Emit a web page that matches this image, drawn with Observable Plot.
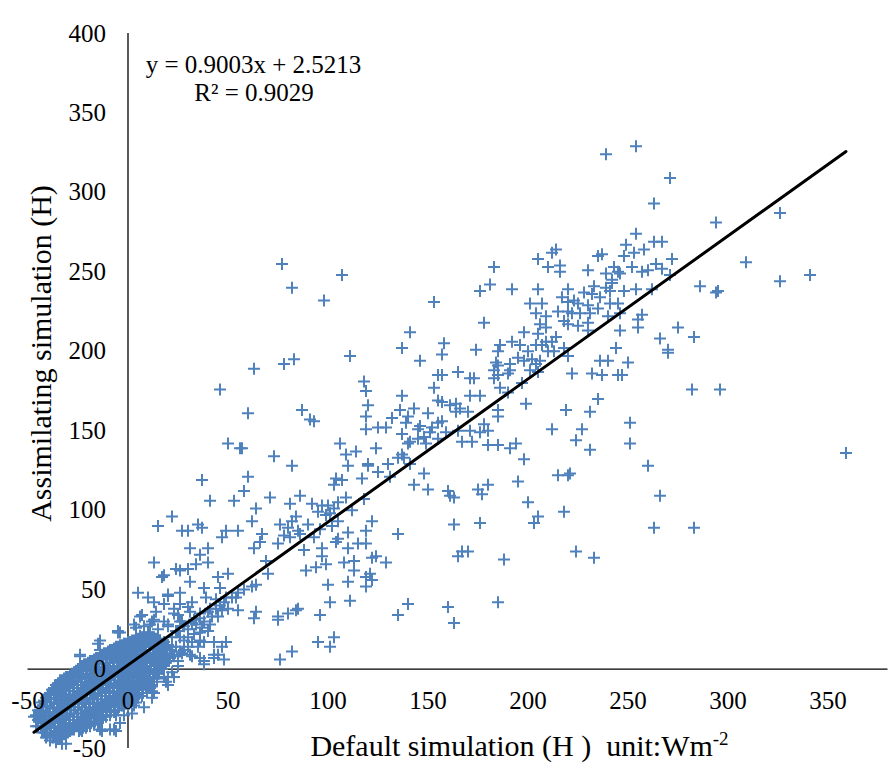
<!DOCTYPE html>
<html><head><meta charset="utf-8">
<script src="https://cdn.jsdelivr.net/npm/d3@7"></script>
<script src="https://cdn.jsdelivr.net/npm/@observablehq/plot@0.6"></script>
<style>
html,body{margin:0;padding:0;background:#fff;}
#chart{width:894px;height:772px;}
svg text{font-family:'Liberation Serif','Times New Roman',serif;}
</style></head><body><div id="chart"></div>
<script>
const xTicks = [-50, 0, 50, 100, 150, 200, 250, 300, 350];
const yTicks = [-50, 0, 50, 100, 150, 200, 250, 300, 350, 400];
const xTitle = "Default simulation (H )  unit:Wm";
const xTitleSup = "-2";
const yTitle = "Assimilating simulation (H)";
const trendSlope = 0.9003;
const trendIntercept = 2.5213;
const equationLine1 = "y = 0.9003x + 2.5213";
const equationLine2 = "R\u00B2 = 0.9029";

// scattered points [default H, assimilating H]
const scatterPoints = [
[239,324],[254,329],[271,309],[263,293],[294,281],[326,287],[309,256],[326,244],[341,248],[286,241],[294,237],[295,238],[275,215],[283,209],[266,208],[272,258],[267,269],[263,269],[254,274],[249,267],[258,264],[253,262],[248,260],[237,261],[252,253],[264,255],[267,252],[271,248],[260,251],[257,250],[243,253],[246,249],[262,239],[254,239],[248,238],[241,238],[257,223],[255,220],[255,215],[246,213],[244,202],[270,201],[245,230],[242,243],[296,176],[359,136],
[220,197],[236,194],[240,194],[250,193],[270,199],[222,186],[232,186],[237,185],[245,185],[247,185],[282,176],[235,170],[219,163],[231,162],[251,155],[212,151],[227,151],[224,144],[251,142],[231,138],[260,128],[215,122],[220,122],[221,123],[266,109],[218,99],[205,96],[203,92],[263,89],[283,89],[224,74],[233,70],
[118,181],[119,175],[153,177],[155,185],[157,185],[165,187],[171,183],[173,183],[183,183],[185,185],[190,186],[197,180],[205,187],[137,172],[171,172],[176,172],[186,177],[190,174],[120,166],[87,163],[91,157],[93,156],[119,159],[119,151],[125,152],[129,152],[132,158],[136,163],[143,164],[140,159],[139,155],[150,161],[155,169],[157,168],[161,166],[164,167],[164,162],[166,164],[170,162],[157,156],[155,155],[146,153],[145,151],[137,148],[152,152],[151,149],[148,146],[145,145],[141,143],[140,142],[149,142],[155,145],[159,149],[165,150],[171,150],[176,149],[178,154],[180,150],[185,163],[185,159],[199,167],[167,143],[172,143],[180,141],[185,141],[191,139],[194,142],[198,132],[195,118],[180,116],[175,113],[177,110],[160,112],[163,108],[161,109],[150,113],[143,116],[148,123],[141,129],[137,135],[135,133],[138,133],[130,129],[131,121],[125,124],[124,139],[120,129],[120,128],[117,120],[106,142],[114,137],[109,135],[110,128],[104,120],[107,119],[103,116],[73,134],[82,128],[71,108],[86,109],[81,104],[92,104],[97,103],[100,103],[103,101],[105,105],[109,108],[112,100],[118,107],[95,99],[99,97],[101,98],[84,96],[82,93],[76,91],[80,89],[85,87],[90,91],[96,88],[105,93],[102,90],[122,93],[119,87],[110,86],[78,84],[81,83],[86,85],[67,85],[66,80],[75,79],[88,75],[93,83],[97,76],[104,80],[105,82],[110,76],[115,79],[119,79],[135,85],[63,76],[69,68],[70,60],[64,53],[89,62],[94,64],[99,66],[97,71],[108,67],[113,68],[122,70],[124,71],[129,67],[113,62],[119,58],[121,60],[122,56],[119,52],[110,55],[100,53],[101,42],[111,43],[140,41],[135,34],[160,39],[163,29],[185,42],[165,71],[167,74],[170,74],[163,91],[176,92],[188,69],[200,105],[85,38],[84,37],[80,35],[75,33],[75,31],[96,34],[95,17],[103,20],[101,14],[64,36],[63,32],
[153,231],[183,253],[176,238],[181,242],[192,239],[205,239],[178,218],[205,258],[212,262],[214,264],[210,253],[216,254],[216,250],[235,260],[201,230],[207,230],[204,224],[217,234],[220,231],[220,239],[223,232],[228,237],[230,251],[233,241],[232,236],[225,230],[230,229],[226,224],[231,224],[235,227],[236,234],[239,249],[242,245],[239,240],[245,250],[241,230],[240,222],[246,224],[230,218],[230,213],[225,216],[220,217],[218,219],[222,224],[220,225],[215,225],[209,222],[209,215],[206,217],[218,202],
[158,205],[157,198],[174,201],[186,204],[185,200],[192,206],[198,212],[205,211],[196,204],[200,200],[204,204],[195,196],[198,194],[202,195],[204,192],[201,188],[206,194],[209,206],[212,206],[214,209],[207,204],[210,200],[213,200],[184,193],[185,191],[191,192],[191,188],[183,188],[146,194],
[77,255],[82,240],[107,248],[98,232],[141,212],[137,202],[111,197],[63,189],[78,192],[83,195],[46,176],
[60,161],[50,142],[56,139],[57,139],[37,119],[60,121],[58,112],[41,106],[53,106],
[64,101],[22,96],[15,90],[27,87],[30,87],[35,91],[37,89],[49,87],[55,87],[62,93],[47,83],[31,76],[36,72],[40,76],[13,67],[24,63],[30,63],[34,66],[40,67],[17,58],[31,55],[38,51],[5,48],[10,45],[13,42],[20,46],[26,48],[26,41],[32,42],[39,45],[44,44],[46,51],[49,45],[54,45],[62,52],[55,37],[47,37],[41,38],[36,35],[31,36],[23,38],[18,41],[7,34],[3,28],[11,28],[20,28],[26,30],[33,31],[36,23],[30,20],[25,24],[20,15],[16,18],[11,20],[6,21],[5,15],[-4,23],[-2,15],[27,10],[31,9],[36,7],[38,3],[21,7],[18,3],[25,2],[22,-2],[19,-8],[20,-10],[12,-14],[13,-8],[10,-10],[45,9],[48,6],[43,17],[49,17],[82,11],[76,6],
[18,59],[26,62],[45,58],[50,60],[20,47],[-5,24],[12,30],[23,35],[30,39],[38,17],[43,7],[23,8],[13,-15],[12,-11],[18,-5],[3,-23],[-2,-29],[-6,-39],[-9,-38],[-14,-38],[-15,-34],[-22,-33],[-27,-32],[-31,-47],[-36,-46],[-37,-41],[-35,-37],[-39,-35],[-44,-29],[-45,-36],[-47,-30],[-42,-20],[-37,-16],[-35,-12],[-30,-8],[-24,8],[-15,16],[-14,12],[-9,10],[-2,16],[4,26],[10,17],
[-24,9],[-14,18],[-5,23],[-34,-7],[-36,-14],[-44,-26],[6,33],[13,31],[10,23],[20,27],[25,34],[27,30],[26,11],[32,17],[36,18],[32,8],[38,5],[43,9],[47,14],[20,-5],[23,-5],[12,-18],[8,-24],[2,-28],[-4,-34],[-7,-38],[-13,-39],[-24,-38],[-34,-44],[-33,-47],
[22,20],[24,24],[26,20],[28,27],[30,25],[32,29],[34,28],[36,32],[38,30],[40,36],[42,33],[44,38],[46,40],[48,42],[24,14],[28,18],[33,22],[37,26],[41,28],[45,33],[50,38],[52,45],[55,48],[58,50],[25,5],[28,12],[30,14],[35,14],[40,24],[15,25],[18,30],[8,27],[14,36]
];

// dense cluster around the origin (estimated from the solid blob)
const originCluster = [
[-46,-29],[-46,-36],[-44,-24],[-44.5,-31],[-43.5,-37],[-42,-20],[-42.5,-27],[-41.5,-33],[-42,-40],
[-40,-16],[-40.5,-23],[-39.5,-29],[-40,-35],[-40.5,-42],
[-38,-13],[-38.5,-19],[-37.5,-25],[-38,-31],[-38.5,-37],[-37.5,-43],
[-36,-10],[-36.5,-16],[-35.5,-22],[-36,-28],[-36.5,-34],[-35.5,-40],[-36,-45],
[-34,-8],[-34.5,-14],[-33.5,-20],[-34,-26],[-34.5,-32],[-33.5,-38],[-34,-43],
[-32,-6],[-32.5,-12],[-31.5,-18],[-32,-24],[-32.5,-30],[-31.5,-36],[-32,-41],
[-30,-5],[-30.5,-10],[-29.5,-16],[-30,-22],[-30.5,-28],[-29.5,-34],[-30,-40],
[-28,-3],[-28.5,-9],[-27.5,-14],[-28,-20],[-28.5,-26],[-27.5,-32],[-28,-38],
[-26,-1],[-26.5,-7],[-25.5,-12],[-26,-18],[-26.5,-24],[-25.5,-30],[-26,-36],
[-24,1],[-24.5,-5],[-23.5,-10],[-24,-16],[-24.5,-22],[-23.5,-28],[-24,-34],[-24.5,-39],
[-22,3],[-22.5,-3],[-21.5,-8],[-22,-14],[-22.5,-20],[-21.5,-26],[-22,-32],[-22.5,-37],
[-20,4],[-20.5,-1],[-19.5,-6],[-20,-12],[-20.5,-18],[-19.5,-24],[-20,-30],[-20.5,-35],
[-18,5],[-18.5,0],[-17.5,-5],[-18,-10],[-18.5,-16],[-17.5,-22],[-18,-28],[-18.5,-34],
[-16,7],[-16.5,1],[-15.5,-4],[-16,-9],[-16.5,-15],[-15.5,-21],[-16,-27],[-16.5,-33],
[-14,8],[-14.5,3],[-13.5,-2],[-14,-7],[-14.5,-13],[-13.5,-19],[-14,-25],[-14.5,-31],
[-12,10],[-12.5,4],[-11.5,-1],[-12,-6],[-12.5,-12],[-11.5,-17],[-12,-23],[-12.5,-29],
[-10,11],[-10.5,6],[-9.5,1],[-10,-4],[-10.5,-10],[-9.5,-15],[-10,-21],[-10.5,-27],
[-8,12],[-8.5,7],[-7.5,2],[-8,-3],[-8.5,-9],[-7.5,-14],[-8,-20],[-8.5,-26],
[-6,14],[-6.5,9],[-5.5,4],[-6,-2],[-6.5,-7],[-5.5,-12],[-6,-18],[-6.5,-24],[-6,-29],
[-4,15],[-4.5,10],[-3.5,5],[-4,0],[-4.5,-5],[-3.5,-10],[-4,-16],[-4.5,-22],
[-2,16],[-2.5,11],[-1.5,6],[-2,1],[-2.5,-4],[-1.5,-9],[-2,-14],[-2.5,-20],[-2,-25],
[0,17],[-0.5,12],[0.5,7],[0,2],[-0.5,-3],[0.5,-8],[0,-13],[-0.5,-18],[0,-23],
[2,18],[1.5,13],[2.5,8],[2,3],[1.5,-2],[2.5,-7],[2,-12],[1.5,-17],
[4,19],[3.5,14],[4.5,9],[4,4],[3.5,-1],[4.5,-6],[4,-11],[3.5,-16],[4,-21],
[6,20],[5.5,15],[6.5,10],[6,5],[5.5,0],[6.5,-5],[6,-10],[5.5,-15],
[8,21],[7.5,16],[8.5,11],[8,6],[7.5,1],[8.5,-4],[8,-9],[7.5,-15],
[10,22],[9.5,17],[10.5,12],[10,7],[9.5,2],[10.5,-3],[10,-8],[9.5,-13],
[12,20],[11.5,15],[12.5,10],[12,5],[11.5,0],[12.5,-5],[12,-10],
[14,19],[13.5,14],[14.5,9],[14,4],[13.5,-1],[14.5,-6],
[16,18],[15.5,13],[16.5,8],[16,3],[15.5,-2],
[18,17],[17.5,12],[18.5,7],[18,2],
[20,15],[19.5,10],[20.5,5],
[22,14],[22.5,9]
];

// second, interleaved layer of the dense cluster
const originClusterInner = [
[-45,-32],[-45,-26],
[-43,-21],[-43,-28],[-43,-34],[-43,-40],
[-41,-18],[-41,-24],[-41,-30],[-41,-37],[-41,-43],
[-39,-15],[-39,-21],[-39,-27],[-39,-33],[-39,-40],[-39,-45],
[-37,-12],[-37,-18],[-37,-24],[-37,-30],[-37,-36],[-37,-42],
[-35,-9],[-35,-15],[-35,-21],[-35,-27],[-35,-33],[-35,-39],[-35,-44],
[-33,-7],[-33,-13],[-33,-19],[-33,-25],[-33,-31],[-33,-37],[-33,-42],
[-31,-5],[-31,-11],[-31,-17],[-31,-23],[-31,-29],[-31,-35],[-31,-41],
[-29,-4],[-29,-10],[-29,-16],[-29,-22],[-29,-28],[-29,-34],[-29,-39],
[-27,-2],[-27,-8],[-27,-14],[-27,-20],[-27,-26],[-27,-32],[-27,-38],
[-25,0],[-25,-6],[-25,-12],[-25,-18],[-25,-24],[-25,-30],[-25,-36],
[-23,2],[-23,-4],[-23,-10],[-23,-16],[-23,-22],[-23,-28],[-23,-34],[-23,-39],
[-21,3],[-21,-3],[-21,-9],[-21,-15],[-21,-21],[-21,-27],[-21,-33],[-21,-37],
[-19,5],[-19,-1],[-19,-7],[-19,-13],[-19,-19],[-19,-25],[-19,-31],[-19,-36],
[-17,6],[-17,-1],[-17,-7],[-17,-13],[-17,-19],[-17,-25],[-17,-30],[-17,-35],
[-15,7],[-15,1],[-15,-5],[-15,-11],[-15,-17],[-15,-23],[-15,-28],[-15,-33],
[-13,9],[-13,3],[-13,-3],[-13,-9],[-13,-15],[-13,-21],[-13,-27],[-13,-32],
[-11,10],[-11,4],[-11,-2],[-11,-8],[-11,-14],[-11,-20],[-11,-25],[-11,-30],
[-9,12],[-9,6],[-9,0],[-9,-6],[-9,-12],[-9,-18],[-9,-23],[-9,-29],
[-7,13],[-7,7],[-7,1],[-7,-5],[-7,-11],[-7,-17],[-7,-22],[-7,-27],
[-5,14],[-5,8],[-5,2],[-5,-4],[-5,-10],[-5,-15],[-5,-20],[-5,-26],
[-3,15],[-3,9],[-3,3],[-3,-3],[-3,-8],[-3,-13],[-3,-18],[-3,-23],
[-1,16],[-1,10],[-1,4],[-1,-1],[-1,-6],[-1,-11],[-1,-16],[-1,-21],
[1,17],[1,11],[1,5],[1,0],[1,-5],[1,-10],[1,-15],[1,-20],
[3,18],[3,12],[3,6],[3,1],[3,-4],[3,-9],[3,-14],[3,-19],
[5,19],[5,13],[5,7],[5,2],[5,-3],[5,-8],[5,-13],[5,-18],
[7,20],[7,14],[7,8],[7,3],[7,-2],[7,-7],[7,-12],[7,-17],
[9,20],[9,14],[9,9],[9,4],[9,-1],[9,-6],[9,-11],
[11,21],[11,16],[11,10],[11,4],[11,-1],[11,-6],[11,-12],
[13,20],[13,15],[13,10],[13,5],[13,-1],[13,-6],
[15,18],[15,13],[15,8],[15,3],[15,-3],
[17,16],[17,11],[17,6],[17,0],
[19,15],[19,9],[19,4],
[21,12],[21,7]
];

const allPoints = originCluster.concat(originClusterInner, scatterPoints);
const [xMinData, xMaxData] = d3.extent(allPoints, d => d[0]);
const trendPoints = [xMinData, xMaxData].map(x => ({x, y: trendSlope * x + trendIntercept}));

const plusSymbol = {
  draw(ctx, size) {
    const r = Math.sqrt(size / Math.PI);
    ctx.moveTo(-r, 0); ctx.lineTo(r, 0);
    ctx.moveTo(0, -r); ctx.lineTo(0, r);
  }
};

const serif = "'Liberation Serif', 'Times New Roman', serif";
const blue = "#4F81BD";

const plot = Plot.plot({
  width: 894, height: 772,
  marginLeft: 27.5, marginRight: 6.5, marginTop: 33, marginBottom: 24,
  x: {domain: [-50, 380], axis: null},
  y: {domain: [-50, 400], axis: null},
  style: {fontFamily: serif, background: "#fff", color: "#000"},
  marks: [
    Plot.ruleY([0], {x1: -50, x2: 380, stroke: "#000", strokeWidth: 1.3}),
    Plot.ruleX([0], {y1: -50, y2: 400, stroke: "#000", strokeWidth: 1.3}),
    Plot.dot(allPoints, {x: d => d[0], y: d => d[1], symbol: plusSymbol, r: 6, stroke: blue, strokeWidth: 2, fill: "none"}),
    Plot.line(trendPoints, {x: "x", y: "y", stroke: "#000", strokeWidth: 3}),
    Plot.text(xTicks, {x: d => d, y: 0, dy: 32, text: d => String(d), fontSize: 25, fontFamily: serif, lineAnchor: "middle", textAnchor: "middle"}),
    Plot.text(yTicks, {x: 0, y: d => d, dx: -22, text: d => String(d), fontSize: 25, fontFamily: serif, lineAnchor: "middle", textAnchor: "end"}),
    Plot.text([equationLine1], {frameAnchor: "top-left", dx: 225.5, dy: 31, fontSize: 25, fontFamily: serif, textAnchor: "middle", lineAnchor: "middle"}),
    Plot.text([equationLine2], {frameAnchor: "top-left", dx: 226, dy: 59, fontSize: 25, fontFamily: serif, textAnchor: "middle", lineAnchor: "middle"}),
    Plot.text([xTitle], {frameAnchor: "bottom", dx: 61.5, dy: -2, fontSize: 30, fontFamily: serif, textAnchor: "middle", lineAnchor: "middle"}),
    Plot.text([yTitle], {frameAnchor: "left", rotate: -90, dx: 13.5, dy: -37.5, fontSize: 30, fontFamily: serif, textAnchor: "middle", lineAnchor: "middle"})
  ]
});

// add the superscript to the x axis title
plot.querySelectorAll("text").forEach(t => {
  if (t.textContent === xTitle) {
    t.setAttribute("xml:space", "preserve");
    t.style.whiteSpace = "pre";
    t.textContent = "";
    const ns = "http://www.w3.org/2000/svg";
    const a = document.createElementNS(ns, "tspan");
    a.textContent = xTitle;
    const s = document.createElementNS(ns, "tspan");
    s.textContent = xTitleSup;
    s.setAttribute("font-size", "19");
    s.setAttribute("dy", "-11");
    t.appendChild(a); t.appendChild(s);
  }
});

document.getElementById("chart").appendChild(plot);
</script>
</body></html>
